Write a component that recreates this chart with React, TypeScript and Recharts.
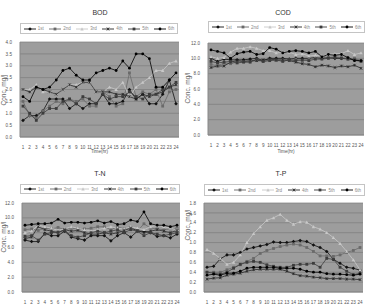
import { LineChart, Line, XAxis, YAxis, CartesianGrid } from "recharts";

const HOURS = ["1","2","3","4","5","6","7","8","9","10","11","12","13","14","15","16","17","18","19","20","21","22","23","24"];
const RUN_NAMES = ["1st", "2nd", "3rd", "4th", "5th", "6th"];

const BOD_1 = [0.7, 0.9, 0.9, 1.1, 1.6, 1.6, 1.6, 1.2, 1.4, 1.2, 1.4, 1.4, 1.8, 1.4, 1.4, 1.5, 2.0, 1.6, 1.8, 1.4, 1.4, 1.8, 2.4, 1.4];
const BOD_2 = [1.5, 0.9, 0.8, 1.1, 1.3, 1.5, 1.4, 1.6, 1.5, 1.6, 1.3, 1.3, 1.9, 1.7, 1.3, 1.4, 2.7, 1.7, 1.9, 1.8, 2.0, 1.3, 1.9, 2.0];
const BOD_3 = [2.0, 2.0, 2.2, 1.9, 1.9, 1.8, 2.0, 2.2, 2.2, 2.3, 2.3, 1.9, 1.9, 2.1, 2.0, 2.3, 1.7, 2.1, 2.3, 2.5, 2.8, 2.8, 3.1, 3.2];
const BOD_4 = [2.0, 1.9, 2.1, 2.0, 1.9, 1.8, 2.0, 2.2, 2.1, 2.3, 2.3, 1.9, 1.9, 1.9, 1.8, 1.8, 1.7, 1.6, 1.8, 1.7, 1.8, 1.9, 2.1, 2.2];
const BOD_5 = [1.3, 1.0, 0.7, 1.0, 1.2, 1.2, 1.5, 1.6, 1.4, 1.7, 1.6, 1.4, 1.8, 1.6, 1.7, 1.7, 1.9, 1.7, 1.6, 1.8, 1.8, 2.0, 2.1, 2.3];
const BOD_6 = [1.7, 1.5, 2.1, 2.0, 2.1, 2.4, 2.8, 2.9, 2.6, 2.4, 2.4, 2.7, 2.8, 2.9, 2.8, 3.2, 2.9, 3.5, 3.5, 3.3, 2.1, 2.1, 2.4, 2.7];

const COD_1 = [10.0, 9.6, 9.9, 9.8, 9.8, 9.8, 9.9, 10.0, 9.7, 10.0, 10.0, 10.0, 9.9, 10.0, 10.0, 10.0, 10.1, 10.0, 10.1, 10.0, 10.0, 10.0, 9.8, 9.7];
const COD_2 = [9.2, 9.0, 9.4, 9.3, 9.5, 9.6, 9.6, 9.7, 9.6, 9.8, 9.7, 9.8, 9.8, 9.9, 9.7, 9.9, 10.0, 10.2, 10.1, 10.2, 10.1, 9.9, 10.0, 9.7];
const COD_3 = [10.2, 10.0, 10.1, 10.8, 11.3, 11.3, 11.5, 11.3, 11.0, 11.0, 10.7, 10.8, 10.8, 10.5, 10.6, 10.3, 10.4, 10.3, 10.5, 10.6, 10.6, 11.0, 10.5, 10.7];
const COD_4 = [8.8, 9.0, 9.0, 9.5, 9.7, 9.6, 9.7, 9.7, 9.8, 9.9, 9.8, 9.8, 9.7, 9.5, 9.3, 9.2, 8.9, 9.1, 9.0, 8.8, 9.0, 8.9, 9.1, 8.7];
const COD_5 = [9.6, 9.4, 9.5, 9.6, 9.4, 9.5, 9.5, 9.9, 9.6, 9.7, 9.8, 9.6, 9.8, 9.7, 9.8, 9.7, 9.9, 9.9, 10.0, 10.1, 10.0, 9.9, 9.8, 9.6];
const COD_6 = [11.1, 10.9, 10.7, 10.0, 10.6, 10.8, 10.9, 10.5, 10.6, 11.4, 11.2, 10.7, 10.9, 11.0, 10.9, 10.7, 10.9, 10.2, 10.5, 10.4, 10.5, 10.1, 9.7, 9.7];

const TN_1 = [7.0, 6.8, 6.8, 7.9, 7.6, 7.6, 8.2, 7.4, 7.2, 7.0, 7.6, 7.6, 7.6, 6.9, 7.6, 8.0, 7.4, 8.2, 8.2, 8.0, 7.5, 7.6, 7.3, 7.8];
const TN_2 = [8.4, 8.5, 8.3, 8.6, 8.5, 8.7, 8.4, 8.6, 8.5, 8.5, 8.6, 8.8, 8.8, 8.4, 8.8, 8.5, 8.7, 8.2, 9.2, 8.6, 8.5, 8.4, 8.5, 8.6];
const TN_3 = [8.0, 8.2, 9.0, 8.8, 8.6, 8.3, 8.5, 8.8, 8.6, 8.4, 8.2, 8.4, 8.6, 8.8, 8.6, 8.5, 8.8, 8.6, 8.4, 8.8, 9.0, 8.8, 8.6, 8.4];
const TN_4 = [7.2, 7.4, 8.8, 8.4, 8.2, 8.0, 8.4, 8.2, 8.3, 8.0, 7.8, 7.8, 8.0, 7.8, 8.0, 8.3, 8.6, 8.3, 8.0, 8.2, 8.4, 8.2, 8.0, 8.3];
const TN_5 = [7.5, 7.6, 7.0, 7.8, 8.0, 8.1, 8.3, 7.6, 7.4, 7.6, 8.0, 8.2, 8.0, 8.2, 8.4, 8.0, 8.4, 8.2, 7.6, 8.0, 7.8, 7.6, 7.8, 8.0];
const TN_6 = [9.0, 9.1, 9.2, 9.2, 9.3, 9.8, 9.3, 9.4, 9.4, 9.3, 9.4, 9.6, 9.3, 9.5, 9.1, 9.2, 9.7, 9.5, 10.8, 9.2, 9.0, 9.0, 8.8, 9.0];

const TP_1 = [0.5, 0.52, 0.67, 0.75, 0.75, 0.8, 0.87, 0.9, 0.93, 0.96, 1.01, 1.0, 1.0, 1.02, 1.04, 1.02, 0.95, 0.9, 0.82, 0.66, 0.58, 0.5, 0.48, 0.44];
const TP_2 = [0.4, 0.4, 0.4, 0.45, 0.5, 0.55, 0.62, 0.68, 0.78, 0.84, 0.88, 0.92, 0.95, 0.97, 0.95, 0.9, 0.82, 0.73, 0.73, 0.72, 0.75, 0.8, 0.84, 0.9];
const TP_3 = [0.86, 0.78, 0.68, 0.56, 0.6, 0.75, 1.0, 1.18, 1.32, 1.45, 1.5, 1.57, 1.45, 1.37, 1.42, 1.41, 1.32, 1.27, 1.2, 1.1, 0.98, 0.82, 0.65, 0.45];
const TP_4 = [0.26, 0.28, 0.29, 0.34, 0.36, 0.38, 0.42, 0.45, 0.46, 0.46, 0.46, 0.46, 0.42, 0.37, 0.33, 0.32, 0.3, 0.29, 0.27, 0.27, 0.27, 0.26, 0.26, 0.25];
const TP_5 = [0.4, 0.38, 0.36, 0.4, 0.48, 0.56, 0.6, 0.62, 0.6, 0.55, 0.52, 0.5, 0.5, 0.54, 0.56, 0.56, 0.58, 0.5, 0.68, 0.66, 0.5, 0.42, 0.35, 0.38];
const TP_6 = [0.34, 0.36, 0.34, 0.38, 0.38, 0.42, 0.48, 0.5, 0.5, 0.5, 0.5, 0.48, 0.48, 0.48, 0.46, 0.42, 0.4, 0.4, 0.37, 0.36, 0.36, 0.35, 0.34, 0.36];

const TICKS_BOD = [0, 0.5, 1.0, 1.5, 2.0, 2.5, 3.0, 3.5, 4.0];
const TICKS_12 = [0, 2, 4, 6, 8, 10, 12];
const TICKS_TP = [0, 0.2, 0.4, 0.6, 0.8, 1.0, 1.2, 1.4, 1.6, 1.8];

// one look per run, roughly what excel gave
const STYLES = [
  { color: "#111111", shape: "diamond" },
  { color: "#6a6a6a", shape: "square" },
  { color: "#c8c8c8", shape: "triangle" },
  { color: "#262626", shape: "cross" },
  { color: "#3c3c3c", shape: "square" },
  { color: "#000000", shape: "circle" },
];

const FONT = "'Liberation Sans', Arial, sans-serif";
const PLOT_BG = "#9d9d9d";
const GRID = "#7c7c7c";

function Marker({ cx, cy, shape, color }: { cx: number; cy: number; shape: string; color: string }) {
  if (cx == null || cy == null) return null;
  const r = 1.4;
  if (shape === "diamond")
    return <path d={`M${cx},${cy - r - 0.4}L${cx + r + 0.4},${cy}L${cx},${cy + r + 0.4}L${cx - r - 0.4},${cy}Z`} fill={color} />;
  if (shape === "square") return <rect x={cx - r} y={cy - r} width={r * 2} height={r * 2} fill={color} />;
  if (shape === "triangle")
    return <path d={`M${cx},${cy - r - 0.3}L${cx + r + 0.3},${cy + r}L${cx - r - 0.3},${cy + r}Z`} fill={color} />;
  if (shape === "cross")
    return (
      <path d={`M${cx - r},${cy - r}L${cx + r},${cy + r}M${cx - r},${cy + r}L${cx + r},${cy - r}M${cx},${cy - r}L${cx},${cy + r}`} stroke={color} strokeWidth={0.7} />
    );
  return <circle cx={cx} cy={cy} r={r} fill={color} />;
}

function LegendBox({ left, top, width, height }: { left: number; top: number; width: number; height: number }) {
  return (
    <div
      style={{
        position: "absolute", left, top, width, height, boxSizing: "border-box",
        border: "1px solid #c4c4c4", background: "#fff", display: "flex", alignItems: "center",
        justifyContent: "space-around", fontFamily: FONT, fontSize: 4.5, color: "#888",
      }}
    >
      {RUN_NAMES.map((name, i) => (
        <div key={name} style={{ display: "flex", alignItems: "center", gap: 2 }}>
          <svg width={12} height={6}>
            <line x1={0} x2={12} y1={3} y2={3} stroke={STYLES[i].color} strokeWidth={0.9} />
            <Marker cx={6} cy={3} shape={STYLES[i].shape} color={STYLES[i].color} />
          </svg>
          <span>{name}</span>
        </div>
      ))}
    </div>
  );
}

type PanelProps = {
  title: string;
  runs: number[][];
  ticks: number[];
  x: number; y: number; h: number;
  yW: number; mTop: number; mRight: number; xH: number;
  titleX: number; titleY: number;
  legend: { left: number; top: number; width: number; height: number };
  labelX: number; labelY: number;
  timeY?: number;
};

function Panel(p: PanelProps) {
  const data = HOURS.map((hour, i) => {
    const row: Record<string, number | string> = { hour };
    p.runs.forEach((r, k) => (row["r" + k] = r[i]));
    return row;
  });
  const top = p.ticks[p.ticks.length - 1];
  const plotLeft = p.x + p.yW;
  const plotRight = p.x + 183 - p.mRight;
  return (
    <>
      <div style={{ position: "absolute", left: p.titleX - 30, top: p.titleY - 5, width: 60, textAlign: "center", fontFamily: FONT, fontSize: 7, color: "#333", lineHeight: "10px" }}>
        {p.title}
      </div>
      <LegendBox {...p.legend} />
      <div style={{ position: "absolute", left: p.x, top: p.y }}>
        <LineChart width={183} height={p.h} data={data} margin={{ top: p.mTop, right: p.mRight, left: 0, bottom: 0 }}>
          <CartesianGrid vertical={false} fill={PLOT_BG} stroke={GRID} strokeWidth={0.7} horizontalValues={p.ticks} />
          <XAxis
            dataKey="hour" height={p.xH} padding={{ left: 3, right: 3 }} interval={0}
            tick={{ fontSize: 4.6, fill: "#555", fontFamily: FONT }} tickLine={false} tickMargin={3}
            axisLine={{ stroke: "#888" }}
          />
          <YAxis
            width={p.yW} domain={[0, top]} ticks={p.ticks} interval={0} tickFormatter={(v: number) => v.toFixed(1)}
            tick={{ fontSize: 4.6, fill: "#555", fontFamily: FONT }} tickLine={false} tickMargin={2}
            axisLine={{ stroke: "#888" }}
          />
          {p.runs.map((_, k) => (
            <Line
              key={k} dataKey={"r" + k} name={RUN_NAMES[k]} stroke={STYLES[k].color} strokeWidth={0.8}
              isAnimationActive={false}
              dot={(d: any) => <Marker key={d.index} cx={d.cx} cy={d.cy} shape={STYLES[k].shape} color={STYLES[k].color} />}
            />
          ))}
        </LineChart>
      </div>
      <div style={{ position: "absolute", left: p.labelX - 25, top: p.labelY - 5, width: 50, height: 10, lineHeight: "10px", textAlign: "center", transform: "rotate(-90deg)", fontFamily: FONT, fontSize: 6.5, color: "#666", whiteSpace: "nowrap" }}>
        Conc. mg/l
      </div>
      {p.timeY != null && (
        <div style={{ position: "absolute", left: (plotLeft + plotRight) / 2 - 25, top: p.timeY - 4, width: 50, textAlign: "center", fontFamily: FONT, fontSize: 4.6, color: "#555", lineHeight: "8px" }}>
          Time(hr)
        </div>
      )}
    </>
  );
}

export default function App() {
  return (
    <div style={{ position: "fixed", left: 0, top: 0, width: 366, height: 307, background: "#fff", overflow: "hidden" }}>
      <Panel
        title="BOD" runs={[BOD_1, BOD_2, BOD_3, BOD_4, BOD_5, BOD_6]} ticks={TICKS_BOD}
        x={0} y={0} h={155} yW={20} mTop={42} mRight={4} xH={18}
        titleX={100} titleY={13} legend={{ left: 20, top: 23, width: 158, height: 11 }}
        labelX={4} labelY={90} timeY={152}
      />
      <Panel
        title="COD" runs={[COD_1, COD_2, COD_3, COD_4, COD_5, COD_6]} ticks={TICKS_12}
        x={183} y={0} h={155} yW={25} mTop={43} mRight={2} xH={20}
        titleX={283} titleY={13} legend={{ left: 208, top: 21, width: 157, height: 12 }}
        labelX={188} labelY={88} timeY={152}
      />
      <Panel
        title="T-N" runs={[TN_1, TN_2, TN_3, TN_4, TN_5, TN_6]} ticks={TICKS_12}
        x={0} y={155} h={152} yW={22} mTop={48} mRight={3} xH={15}
        titleX={100} titleY={174} legend={{ left: 20, top: 184, width: 160, height: 10 }}
        labelX={4} labelY={237}
      />
      <Panel
        title="T-P" runs={[TP_1, TP_2, TP_3, TP_4, TP_5, TP_6]} ticks={TICKS_TP}
        x={183} y={155} h={152} yW={21} mTop={48} mRight={3} xH={15}
        titleX={281} titleY={174} legend={{ left: 204, top: 184, width: 161, height: 12 }}
        labelX={188} labelY={225}
      />
    </div>
  );
}
